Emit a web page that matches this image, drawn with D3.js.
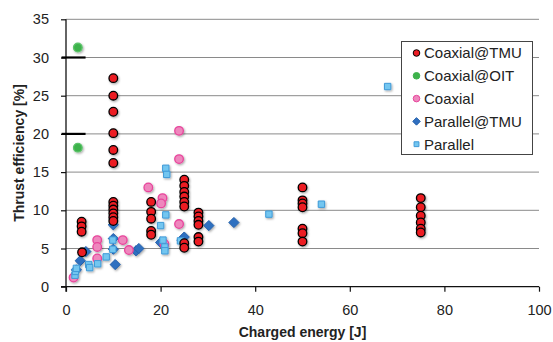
<!DOCTYPE html>
<html>
<head>
<meta charset="utf-8">
<script src="https://cdn.jsdelivr.net/npm/d3@7"></script>
<style>
  body { margin: 0; background: #fff; }
  text { font-family: "Liberation Sans", Arial, sans-serif; fill: #222; }
</style>
</head>
<body>
<div id="chart"></div>
<script>
// data: [charged energy J, thrust efficiency %]
const coaxialTMU = [
  [3.3, 8.5], [3.3, 7.9], [3.3, 7.2], [3.4, 4.5],
  [10, 27.3], [10, 25.0], [10, 22.9], [10, 20.1], [10, 17.9], [10, 16.2],
  [10, 11.1], [10, 10.6], [10, 10.1], [10, 9.6], [10, 9.1], [10, 8.6],
  [18, 11.1], [18, 9.8], [18, 8.9], [18, 7.3], [18, 6.8],
  [25, 14.0], [25, 13.2], [25, 12.4], [25, 11.8], [25, 11.1], [25, 10.5], [25, 5.7], [25, 5.1],
  [28, 9.7], [28, 9.2], [28, 8.6], [28, 8.1], [28, 6.5], [28, 5.9],
  [50, 13.0], [50, 11.3], [50, 10.9], [50, 10.4], [50, 7.6], [50, 7.0], [50, 5.9],
  [75, 11.6], [75, 10.4], [75, 9.3], [75, 8.4], [75, 7.6], [75, 7.1]
];
const coaxialOIT = [[2.5, 31.3], [2.5, 18.2]];
const coaxial = [
  [1.6, 1.2], [6.6, 6.1], [6.6, 5.2], [6.6, 3.7], [12.0, 6.1], [13.3, 4.8],
  [17.4, 13.0], [20.4, 11.6], [20.1, 10.9], [23.9, 20.4], [23.9, 16.7], [23.9, 8.2], [20.8, 5.6]
];
const parallelTMU = [
  [2.2, 2.2], [3.0, 3.4], [4.2, 4.6], [10, 8.1], [10, 6.3], [10, 4.9], [10.4, 2.9],
  [14.8, 4.7], [15.4, 5.0], [20.0, 5.8], [24.5, 6.1], [25.0, 6.5], [30.2, 8.0], [35.5, 8.4]
];
const parallel = [
  [1.9, 1.5], [2.0, 2.0], [2.2, 2.4], [4.8, 2.9], [5.0, 2.5], [6.7, 3.0], [8.5, 3.9],
  [9.9, 6.1], [9.9, 4.9], [20.0, 8.0], [20.5, 6.1], [20.9, 5.2], [20.9, 4.7], [21.1, 9.4],
  [21.1, 15.5], [21.3, 14.7], [24.2, 6.0], [42.9, 9.5], [54.0, 10.8], [68.0, 26.2]
];
const dashMarks = [[1.6, 30], [1.6, 20]];
const xTicks = [0, 20, 40, 60, 80, 100];
const yTicks = [0, 5, 10, 15, 20, 25, 30, 35];

const width = 553;
const height = 342;

const x = d3.scaleLinear().domain([0, 100]).range([66, 539]);
const y = d3.scaleLinear().domain([0, 35]).range([286.7, 19.3]);

const svg = d3.select('#chart')
  .append('svg')
  .attr('width', width)
  .attr('height', height);

const defs = svg.append('defs');
const shadow = defs.append('filter').attr('id', 'shadow')
  .attr('x', '-50%').attr('y', '-50%').attr('width', '200%').attr('height', '200%');
shadow.append('feDropShadow')
  .attr('dx', 1).attr('dy', 1.2).attr('stdDeviation', 0.8)
  .attr('flood-color', '#000').attr('flood-opacity', 0.35);

// grid lines
svg.append('g')
  .selectAll('line')
  .data(yTicks.filter(d => d > 0))
  .enter().append('line')
  .attr('x1', x(0)).attr('x2', x(100))
  .attr('y1', d => y(d)).attr('y2', d => y(d))
  .attr('stroke', '#8a8a8a')
  .attr('stroke-width', 1);

// axes
const xAxis = svg.append('g')
  .attr('transform', `translate(0,${y(0)})`)
  .call(d3.axisBottom(x).tickValues(xTicks).tickSize(5).tickPadding(13));
const yAxis = svg.append('g')
  .attr('transform', `translate(${x(0)},0)`)
  .call(d3.axisLeft(y).tickValues(yTicks).tickSize(5).tickPadding(12));

[xAxis, yAxis].forEach(a => {
  a.select('.domain').attr('stroke', '#111').attr('stroke-width', 1.3);
  a.selectAll('.tick line').attr('stroke', '#111').attr('stroke-width', 1.2);
  a.selectAll('.tick text')
    .style('font-family', '"Liberation Sans", Arial, sans-serif')
    .style('font-size', '14.5px')
    .attr('fill', '#222');
});
xAxis.select('.domain').attr('d', `M${x(0) - 5},0H${x(100)}`);
yAxis.select('.domain').attr('d', `M0,${y(35)}V${y(0) + 5}`);

// short black dashes at the left edge
svg.append('g')
  .selectAll('line')
  .data(dashMarks)
  .enter().append('line')
  .attr('x1', d => x(d[0]) - 12).attr('x2', d => x(d[0]) + 12)
  .attr('y1', d => y(d[1])).attr('y2', d => y(d[1]))
  .attr('stroke', '#000')
  .attr('stroke-width', 2.2);

const plot = svg.append('g').attr('filter', 'url(#shadow)');

function circles(data, fill, stroke, r) {
  plot.append('g')
    .selectAll('circle')
    .data(data)
    .enter().append('circle')
    .attr('cx', d => x(d[0]))
    .attr('cy', d => y(d[1]))
    .attr('r', r)
    .attr('fill', fill)
    .attr('stroke', stroke)
    .attr('stroke-width', 1.3);
}

const diamond = d3.symbol().type(d3.symbolDiamond2).size(66);
const square = d3.symbol().type(d3.symbolSquare2).size(52);

function symbols(data, sym, fill, stroke) {
  plot.append('g')
    .selectAll('path')
    .data(data)
    .enter().append('path')
    .attr('d', sym)
    .attr('transform', d => `translate(${x(d[0])},${y(d[1])})`)
    .attr('fill', fill)
    .attr('stroke', stroke)
    .attr('stroke-width', 1);
}

symbols(parallelTMU, diamond, '#2f6fc0', '#2360aa');
circles(coaxial, '#ee87bd', '#e8459c', 4.3);
symbols(parallel, square, '#73c6f0', '#3f9ad8');
circles(coaxialOIT, '#3db24b', '#5cc46a', 4.3);
circles(coaxialTMU, '#ec1c24', '#000', 4.3);

// axis titles
svg.append('text')
  .attr('x', (x(0) + x(100)) / 2)
  .attr('y', 337)
  .attr('text-anchor', 'middle')
  .style('font-size', '14px')
  .style('font-weight', 'bold')
  .text('Charged energy [J]');

svg.append('text')
  .attr('transform', `translate(24,${(y(0) + y(35)) / 2}) rotate(-90)`)
  .attr('text-anchor', 'middle')
  .style('font-size', '14px')
  .style('font-weight', 'bold')
  .text('Thrust efficiency [%]');

// legend
const legendItems = [
  { label: 'Coaxial@TMU', shape: 'circle', fill: '#ec1c24', stroke: '#000' },
  { label: 'Coaxial@OIT', shape: 'circle', fill: '#3db24b', stroke: '#3db24b' },
  { label: 'Coaxial', shape: 'circle', fill: '#ee87bd', stroke: '#e8459c' },
  { label: 'Parallel@TMU', shape: 'diamond', fill: '#2f6fc0', stroke: '#2360aa' },
  { label: 'Parallel', shape: 'square', fill: '#73c6f0', stroke: '#3f9ad8' }
];

const legend = svg.append('g');
legend.append('rect')
  .attr('x', 401.5).attr('y', 41.5)
  .attr('width', 131).attr('height', 113)
  .attr('fill', '#fff')
  .attr('stroke', '#444')
  .attr('stroke-width', 1);

const rows = legend.selectAll('g.item')
  .data(legendItems)
  .enter().append('g')
  .attr('class', 'item')
  .attr('transform', (d, i) => `translate(416.5,${53 + i * 22.8})`);

rows.each(function(d) {
  const g = d3.select(this);
  if (d.shape === 'circle') {
    g.append('circle').attr('r', 3.3).attr('fill', d.fill).attr('stroke', d.stroke).attr('stroke-width', 1);
  } else if (d.shape === 'diamond') {
    g.append('path').attr('d', d3.symbol().type(d3.symbolDiamond2).size(36)).attr('fill', d.fill).attr('stroke', d.stroke);
  } else {
    g.append('path').attr('d', d3.symbol().type(d3.symbolSquare2).size(30)).attr('fill', d.fill).attr('stroke', d.stroke);
  }
  g.append('text')
    .attr('x', 7.5)
    .attr('y', 5.3)
    .style('font-size', '15px')
    .text(d.label);
});
</script>
</body>
</html>
